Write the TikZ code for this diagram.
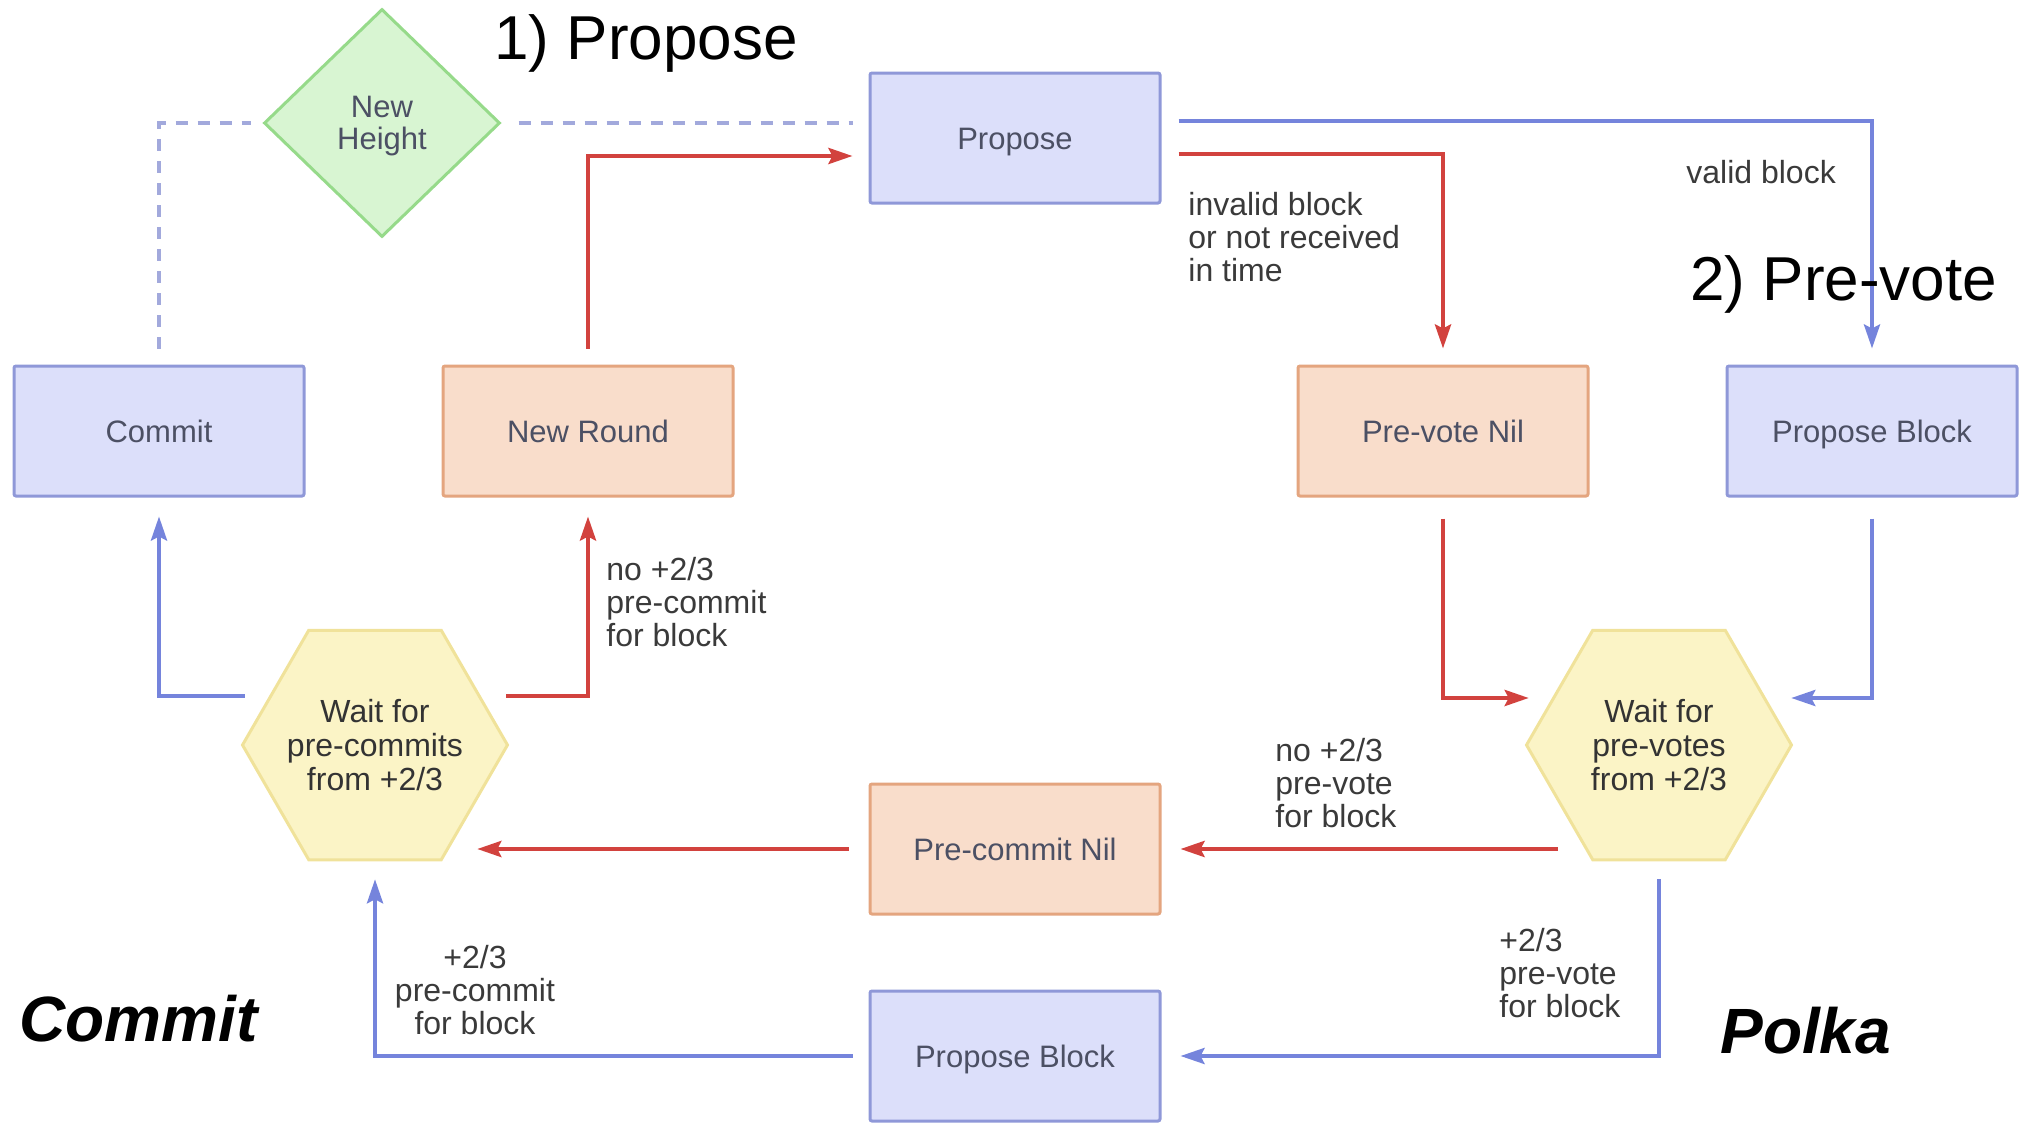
\documentclass[tikz,border=0pt]{standalone}
\usepackage{fontspec}
\setmainfont{Liberation Sans}
\usetikzlibrary{shapes.geometric,arrows.meta,calc}

\definecolor{bluefill}{HTML}{DCDFFA}
\definecolor{blueline}{HTML}{8F98D8}
\definecolor{orangefill}{HTML}{F9DDCB}
\definecolor{orangeline}{HTML}{E4A57F}
\definecolor{hexfill}{HTML}{FBF4C6}
\definecolor{hexline}{HTML}{F0E29A}
\definecolor{greenfill}{HTML}{D8F5D2}
\definecolor{greenline}{HTML}{96DA8A}
\definecolor{flowred}{HTML}{D2423E}
\definecolor{flowblue}{HTML}{7584DC}
\definecolor{dashblue}{HTML}{A2A9DC}
\definecolor{boxtext}{HTML}{4C5064}
\definecolor{labeltext}{HTML}{3A3A3A}

\tikzset{
  statebox/.style={rectangle, rounded corners=1pt, minimum width=145pt, minimum height=65pt,
    line width=1.5pt, text=boxtext, font=\fontsize{15.5}{17}\selectfont, inner sep=0pt,
    text height=11pt, text depth=0pt},
  bluebox/.style={statebox, draw=blueline, fill=bluefill},
  orangebox/.style={statebox, draw=orangeline, fill=orangefill},
  waithex/.style={regular polygon, regular polygon sides=6, minimum size=132.5pt, inner sep=-20pt,
    draw=hexline, fill=hexfill, line width=1.5pt, align=center, text=black!80,
    font=\fontsize{16}{17}\selectfont},
  heightdiamond/.style={diamond, aspect=1, minimum width=118pt, minimum height=114pt, inner sep=0pt,
    draw=greenline, fill=greenfill, line width=1.5pt, align=center, text=boxtext,
    font=\fontsize{15.5}{16}\selectfont, text depth=0pt},
  edgelabel/.style={align=left, text=labeltext, font=\fontsize{16}{16.5}\selectfont, inner sep=0pt},
  flowtip/.style={-{Stealth[length=12pt,width=8pt,inset=2pt]}},
  redflow/.style={draw=flowred, line width=2.2pt, flowtip},
  blueflow/.style={draw=flowblue, line width=2pt, flowtip},
  dashflow/.style={draw=dashblue, line width=1.6pt, dash pattern=on 6pt off 5pt},
  steptitle/.style={font=\fontsize{31}{31}\selectfont, inner sep=0pt, anchor=base west},
  phasetag/.style={font=\bfseries\itshape\fontsize{32}{32}\selectfont, inner sep=0pt, anchor=base west},
}

\begin{document}
\begin{tikzpicture}[x=0.5pt, y=-0.5pt]
\useasboundingbox (0,0) rectangle (2026,1124);

% states
\node[bluebox]   (commit)       at (159,431)  {Commit};
\node[orangebox] (newround)     at (588,431)  {New Round};
\node[orangebox] (prevotenil)   at (1443,431) {Pre-vote Nil};
\node[bluebox]   (blockright)   at (1872,431) {Propose Block};
\node[bluebox]   (propose)      at (1015,138) {Propose};
\node[orangebox] (precommitnil) at (1015,849) {Pre-commit Nil};
\node[bluebox]   (blockbottom)  at (1015,1056) {Propose Block};
\node[heightdiamond] (newheight) at (382,123) {New\\Height};
\node[waithex] (precommits) at (375,745)  {Wait for\\pre-commits\\from +2/3};
\node[waithex] (prevotes)   at (1659,745) {Wait for\\pre-votes\\from +2/3};

% new height links
\draw[dashflow, shorten <=8.5pt, shorten >=8pt] (newheight.east) -- (newheight.east -| propose.west);
\draw[dashflow, shorten <=8pt, shorten >=6pt] (commit.north) |- (newheight.west);

% propose phase
\draw[redflow, shorten <=8pt, shorten >=8pt] (newround.north) |- ($(propose.west)+(0,18)$);
\draw[blueflow, shorten <=8.5pt, shorten >=8pt] ($(propose.east)+(0,-17)$) -| (blockright.north);
\draw[redflow, shorten <=8.5pt, shorten >=8pt] ($(propose.east)+(0,16)$) -| (prevotenil.north);

% pre-vote phase
\draw[redflow, shorten <=10.5pt] (prevotenil.south) |- ($(prevotes.west)+(4,-47)$);
\draw[blueflow, shorten <=10.5pt] (blockright.south) |- ($(prevotes.east)+(-2,-47)$);
\draw[redflow, shorten >=9.5pt] ($(prevotes.west |- precommitnil.east)+(33,0)$) -- (precommitnil.east);
\draw[blueflow, shorten <=9pt, shorten >=9.5pt] (prevotes.south) |- (blockbottom.east);

% pre-commit phase
\draw[redflow, shorten <=10pt] (precommitnil.west) -- ($(precommitnil.west -| precommits.east)+(-32,0)$);
\draw[blueflow, shorten <=8pt, shorten >=9pt] (blockbottom.west) -| (precommits.south);
\draw[blueflow, shorten >=9.5pt] ($(precommits.west)+(4,-49)$) -| (commit.south);
\draw[redflow, shorten >=9.5pt] ($(precommits.east)+(-3,-49)$) -| (newround.south);

% edge labels
\node[edgelabel, anchor=west] (lblinvalid) at (1188,237) {invalid block\\or not received\\in time};
\node[edgelabel, anchor=west] (lblvalid) at (1686,172) {valid block};
\node[edgelabel, anchor=west] (lblnocommit) at (606,602) {no +2/3\\pre-commit\\for block};
\node[edgelabel, align=center] (lblcommit) at (475,990) {+2/3\\pre-commit\\for block};
\node[edgelabel, anchor=west] (lblnovote) at (1275,783) {no +2/3\\pre-vote\\for block};
\node[edgelabel, anchor=west] (lblvote) at (1499,973) {+2/3\\pre-vote\\for block};

% phase titles
\node[steptitle] (stepone) at (494,60) {1) Propose};
\node[steptitle] (steptwo) at (1690,300) {2) Pre-vote};
\node[phasetag] (tagcommit) at (19,1041) {Commit};
\node[phasetag] (tagpolka) at (1720,1053) {Polka};
\end{tikzpicture}
\end{document}
